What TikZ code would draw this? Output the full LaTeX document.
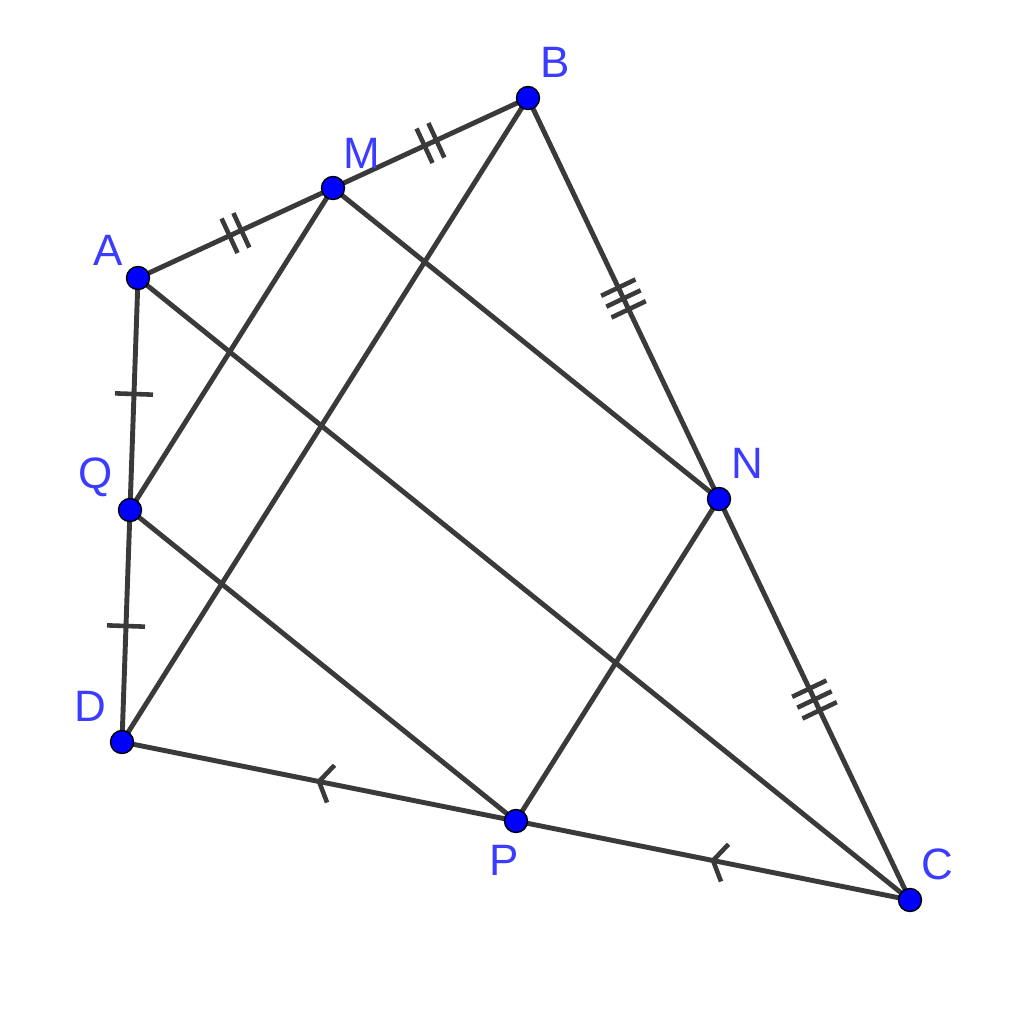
\documentclass[tikz,border=0pt]{standalone}
\usepackage{fontspec}
\setmainfont{Liberation Sans}
\usetikzlibrary{calc,decorations.markings}
\definecolor{segcol}{RGB}{58,58,58}
\definecolor{ptcol}{RGB}{0,0,255}
\definecolor{lblcol}{RGB}{60,60,255}
\tikzset{
  seg/.style={draw=segcol,line width=1.4pt},
  pt/.style={circle,fill=ptcol,draw=black,line width=0.4pt,inner sep=0pt,minimum size=2.3mm},
  lbl/.style={text=lblcol,font=\fontsize{12.5}{14}\selectfont,inner sep=0pt},
  markone/.style={postaction={decorate},decoration={markings,mark=at position 0.5 with
    {\draw[segcol,line width=1.3pt] (0,-1.9mm) -- (0,1.9mm);}}},
  marktwo/.style={postaction={decorate},decoration={markings,mark=at position 0.5 with
    {\foreach \s in {-0.65mm,0.65mm} \draw[segcol,line width=1.3pt] (\s,-1.9mm) -- (\s,1.9mm);}}},
  markthree/.style={postaction={decorate},decoration={markings,mark=at position 0.5 with
    {\foreach \s in {-1.2mm,0mm,1.2mm} \draw[segcol,line width=1.3pt] (\s,-1.9mm) -- (\s,1.9mm);}}},
  markpar/.style={postaction={decorate},decoration={markings,mark=at position 0.5 with
    {\draw[segcol,line width=1.3pt] (-1.2mm,-1.9mm) -- (0,0) -- (-1.2mm,1.9mm);}}}
}
\begin{document}
\begin{tikzpicture}[x=0.01cm,y=-0.01cm]
  \useasboundingbox (0,0) rectangle (1024,1029);
  % corners of the quadrilateral
  \coordinate (A) at (138,278);
  \coordinate (B) at (528,98);
  \coordinate (C) at (910,900);
  \coordinate (D) at (122,742);
  % midpoints of the sides
  \coordinate (M) at ($(A)!0.5!(B)$);
  \coordinate (N) at ($(B)!0.5!(C)$);
  \coordinate (P) at ($(C)!0.5!(D)$);
  \coordinate (Q) at ($(D)!0.5!(A)$);

  % sides
  \draw[seg,marktwo] (A) -- (M);
  \draw[seg,marktwo] (M) -- (B);
  \draw[seg,markthree] (B) -- (N);
  \draw[seg,markthree] (N) -- (C);
  \draw[seg,markpar] (C) -- (P);
  \draw[seg,markpar] (P) -- (D);
  \draw[seg,markone] (D) -- (Q);
  \draw[seg,markone] (Q) -- (A);
  % diagonals
  \draw[seg] (A) -- (C);
  \draw[seg] (B) -- (D);
  % inner parallelogram
  \draw[seg] (M) -- (N) -- (P) -- (Q) -- cycle;

  % points
  \foreach \p in {A,B,C,D,M,N,P,Q}
    \node[pt] (d\p) at (\p) {};

  % labels
  \node[lbl] (lA) at (108,250) {A};
  \node[lbl] (lB) at (555,62) {B};
  \node[lbl] (lC) at (937,864) {C};
  \node[lbl] (lD) at (90,706) {D};
  \node[lbl] (lM) at (362,153) {M};
  \node[lbl] (lN) at (747,463) {N};
  \node[lbl] (lP) at (504,860) {P};
  \node[lbl] (lQ) at (96,477) {Q};
\end{tikzpicture}
\end{document}
